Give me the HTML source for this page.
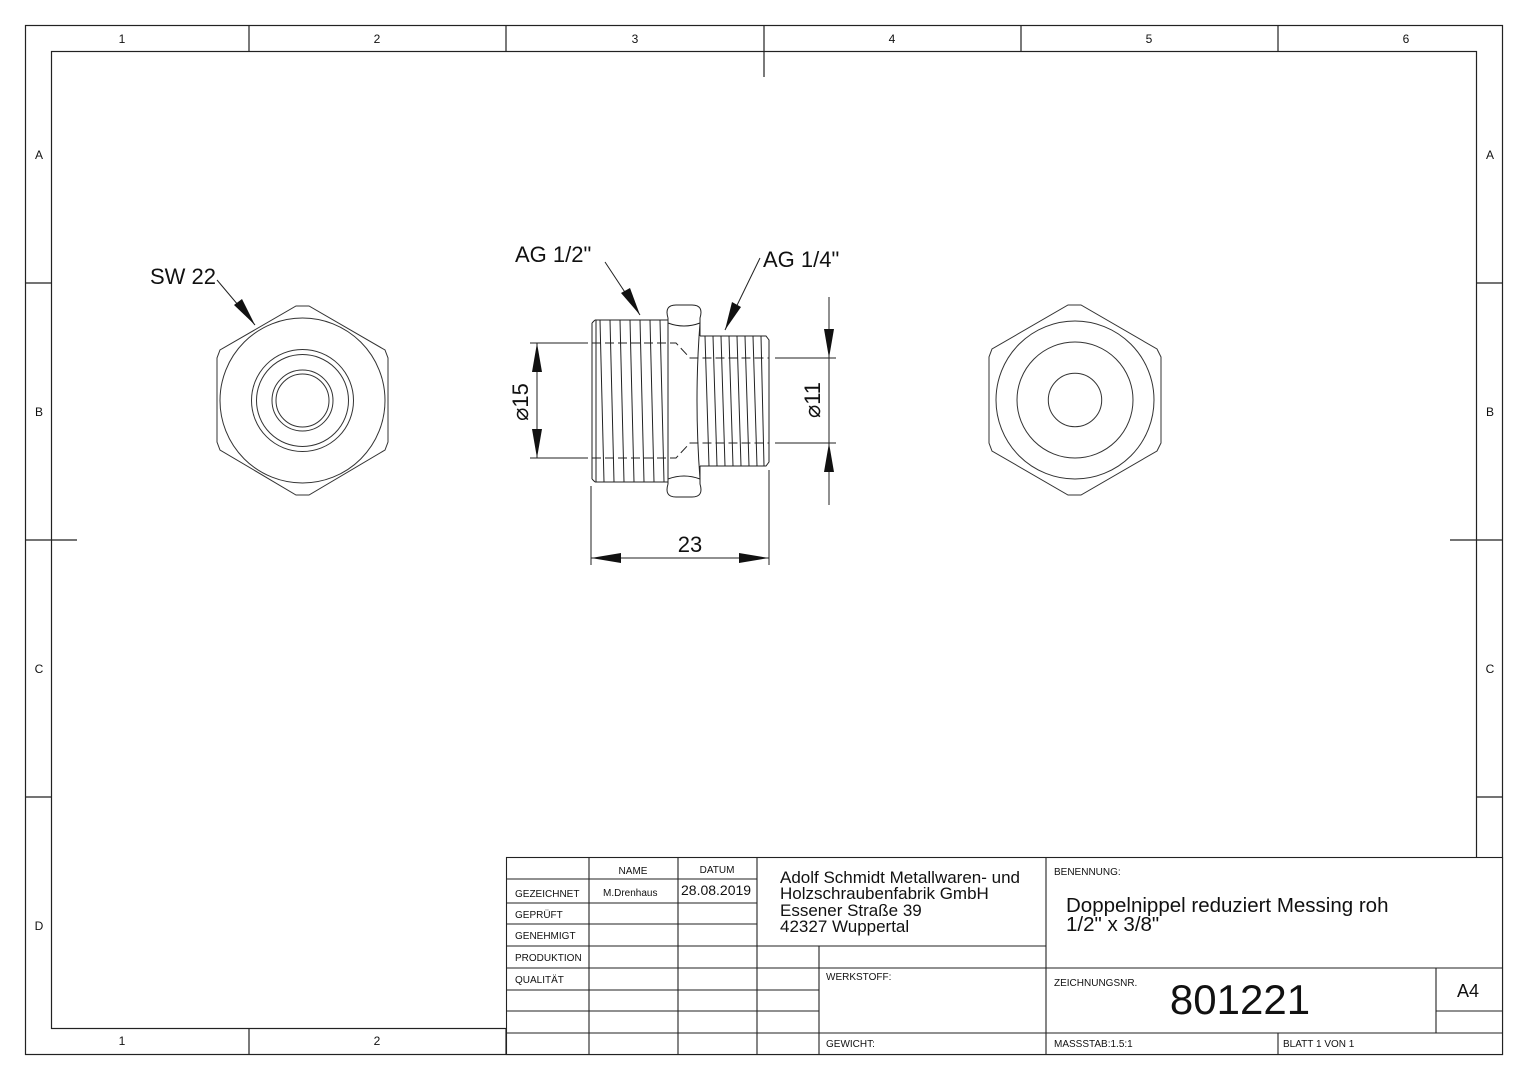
<!DOCTYPE html>
<html><head><meta charset="utf-8"><style>
html,body{margin:0;padding:0;background:#fff}
svg{display:block}
text{font-family:"Liberation Sans",sans-serif;fill:#111}
</style></head><body>
<svg width="1528" height="1080" viewBox="0 0 1528 1080" xmlns="http://www.w3.org/2000/svg">
<g fill="none" stroke="#222" stroke-width="1.2">
<rect x="25.5" y="25.5" width="1477" height="1029"/>
<rect x="51.5" y="51.5" width="1425" height="977"/>
<path d="M249 25V51M506 25V51M764 25V51M1021 25V51M1278 25V51M764 51V77M249 1028V1054M506 1028V1054"/>
<path d="M25 283H51M25 540H77M25 797H51M1476 283H1502M1450 540H1502M1476 797H1502"/>
</g>
<g font-size="12" text-anchor="middle">
<text x="122" y="43">1</text><text x="377" y="43">2</text><text x="635" y="43">3</text><text x="892" y="43">4</text><text x="1149" y="43">5</text><text x="1406" y="43">6</text>
<text x="122" y="1045">1</text><text x="377" y="1045">2</text>
<text x="39" y="159">A</text><text x="39" y="416">B</text><text x="39" y="673">C</text><text x="39" y="930">D</text>
<text x="1490" y="159">A</text><text x="1490" y="416">B</text><text x="1490" y="673">C</text>
</g>
<g fill="none" stroke="#222" stroke-width="1.1">
<rect x="506.5" y="857.5" width="996" height="197" fill="#fff"/>
<path d="M589 857V1054M678 857V1054M757 857V1054M819 946V1054M1046 857V1054M1436 968V1033M1278 1033V1054"/>
<path d="M506 879H757M506 903H757M506 924H757M506 946H1046M506 968H1502M506 990H819M506 1011H819M1436 1011H1502M506 1033H1502"/>
</g>
<g font-size="10">
<text x="633" y="874" text-anchor="middle">NAME</text>
<text x="717" y="873" text-anchor="middle">DATUM</text>
<text x="515" y="897">GEZEICHNET</text>
<text x="603" y="896">M.Drenhaus</text>
<text x="681" y="895" font-size="14">28.08.2019</text>
<text x="515" y="918">GEPRÜFT</text>
<text x="515" y="939">GENEHMIGT</text>
<text x="515" y="961">PRODUKTION</text>
<text x="515" y="983">QUALITÄT</text>
<text x="826" y="980">WERKSTOFF:</text>
<text x="826" y="1047">GEWICHT:</text>
<text x="1054" y="875">BENENNUNG:</text>
<text x="1054" y="986">ZEICHNUNGSNR.</text>
<text x="1054" y="1047">MASSSTAB:1.5:1</text>
<text x="1283" y="1047">BLATT 1 VON 1</text>
</g>
<g font-size="17">
<text x="780" y="883">Adolf Schmidt Metallwaren- und</text>
<text x="780" y="899">Holzschraubenfabrik GmbH</text>
<text x="780" y="916">Essener Straße 39</text>
<text x="780" y="932">42327 Wuppertal</text>
</g>
<text x="1066" y="912" font-size="20.5">Doppelnippel reduziert Messing roh</text>
<text x="1066" y="931" font-size="20.5">1/2" x 3/8"</text>
<text x="1240" y="1014" font-size="42" text-anchor="middle">801221</text>
<text x="1468" y="997" font-size="18" text-anchor="middle">A4</text>

<g fill="none" stroke="#333" stroke-width="1">
<polygon points="296,306 309,306 385,350 388,358 388,442 385,450 309,495 296,495 220,450 217,442 217,358 220,350"/>
<circle cx="302.5" cy="400.5" r="82.5"/>
<circle cx="302.5" cy="400.5" r="51"/>
<circle cx="302.5" cy="400.5" r="46"/>
<circle cx="302.5" cy="400.5" r="30.5"/>
<circle cx="302.5" cy="400.5" r="26.5"/>
<polygon points="1068,305 1081,305 1157,349 1161,357 1161,443 1157,451 1081,495 1068,495 992,451 989,443 989,357 992,349"/>
<circle cx="1075" cy="400" r="79"/>
<circle cx="1075" cy="400" r="58"/>
<circle cx="1075" cy="400" r="26.7"/>
</g>

<g fill="none" stroke="#222" stroke-width="1">
<path d="M595 320H668M595 482H668M592 323V479M592 323L595 320M592 479L595 482M596 320V482"/>
<path d="M600 320L604 482M610 320L614 482M620 320L624 482M630 320L634 482M640 320L644 482M650 320L654 482M660 320L664 482"/>
<path d="M668 318Q664 305 676 305H692Q704 305 700 318V336M668 484Q664 497 676 497H692Q704 497 700 484V466"/>
<path d="M668 318V484M668 323Q684 329 700 323M668 479Q684 473 700 479M700 323Q694 400 700 479"/>
<path d="M700 336H766L769 340V462L766 466H700"/>
<path d="M705 336L709 466M713 336L717 466M721 336L725 466M729 336L733 466M737 336L741 466M745 336L749 466M753 336L757 466M761 336L764 466"/>
</g>
<g fill="none" stroke="#222" stroke-width="1" stroke-dasharray="9,4">
<path d="M592 343H676L690 358H769M592 458H676L690 443H769"/>
</g>
<g fill="none" stroke="#222" stroke-width="1">
<path d="M530 343H588M530 458H588M537 343V458"/>
<path d="M775 358H836M775 443H836M829 297V505"/>
<path d="M591 486V565M769 470V565M591 558H769"/>
<path d="M217 280L255 325M605 262L640 315M760 258L725 330"/>
</g>
<g fill="#111">
<polygon points="537,343 532,372 542,372"/><polygon points="537,458 532,429 542,429"/>
<polygon points="829,358 824,329 834,329"/><polygon points="829,443 824,472 834,472"/>
<polygon points="591,558 621,553 621,563"/><polygon points="769,558 739,553 739,563"/>
<polygon points="255,325 234,305 242,299"/>
<polygon points="640,315 621,293 630,288"/>
<polygon points="725,330 732,302 741,307"/>
</g>
<text x="150" y="284" font-size="22">SW 22</text>
<text x="515" y="262" font-size="22">AG 1/2"</text>
<text x="763" y="267" font-size="22">AG 1/4"</text>
<text x="690" y="552" font-size="22" text-anchor="middle">23</text>
<text transform="translate(528,402) rotate(-90)" font-size="22" text-anchor="middle">⌀15</text>
<text transform="translate(820,400) rotate(-90)" font-size="22" text-anchor="middle">⌀11</text>
</svg>
</body></html>
